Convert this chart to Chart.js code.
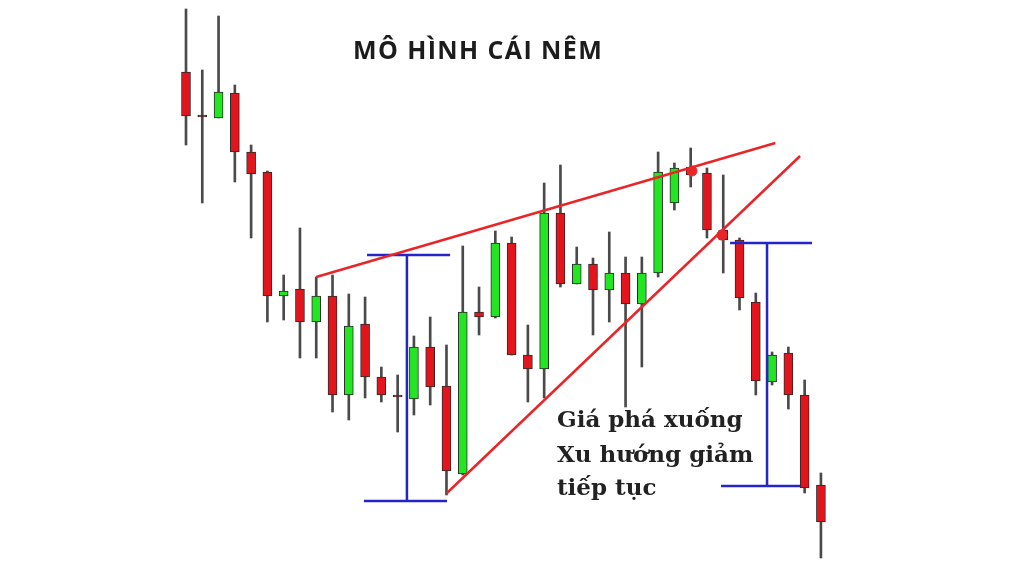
<!DOCTYPE html>
<html>
<head>
<meta charset="utf-8">
<script src="https://cdn.jsdelivr.net/npm/chart.js@4.4.0/dist/chart.umd.min.js"></script>
<style>
  html, body { margin: 0; padding: 0; background: #fff; }
  #wrap { width: 1024px; height: 576px; }
</style>
</head>
<body>
<div id="wrap"><canvas id="myChart"></canvas></div>
<script>
// du lieu nen (gia mo, cao, thap, dong) - 40 cay nen
var opens  = [504, 461, 458, 483, 424, 404, 280, 287, 254, 280, 181, 252, 199, 181, 177, 229, 190, 102, 264, 259,
              333, 221, 207, 363, 292, 312, 286, 303, 272, 303, 373, 409, 403, 346, 336, 274, 194, 223, 181, 91];
var highs  = [567, 506, 560, 491, 431, 405, 301, 348, 299, 301, 282, 279, 209, 201, 240, 259, 231, 330, 289, 345,
              339, 251, 393, 411, 329, 318, 344, 319, 319, 424, 413, 428, 408, 401, 338, 283, 224, 229, 196, 103];
var lows   = [431, 373, 458, 394, 338, 254, 256, 218, 218, 164, 156, 178, 174, 144, 161, 171, 81, 101, 241, 258,
              221, 174, 178, 289, 292, 241, 254, 169, 209, 299, 366, 389, 338, 303, 266, 181, 191, 167, 83, 18];
var closes = [460, 459, 484, 424, 402, 280, 285, 254, 280, 181, 250, 199, 181, 179, 229, 189, 105, 264, 259, 333,
              221, 207, 363, 292, 312, 286, 303, 272, 303, 404, 408, 401, 346, 336, 278, 195, 221, 181, 88, 54];

// duong xu huong cai nem (x = so thu tu cay nen)
var upperLine = [{x: 9.0, y: 299}, {x: 37.2, y: 433}];
var lowerLine = [{x: 17.03, y: 83}, {x: 38.72, y: 420}];
var breakDots = [{x: 32.08, y: 405}, {x: 33.92, y: 341}];

// khung do chieu cao
var leftTop    = [{x: 12.12, y: 321}, {x: 17.22, y: 321}];
var leftMid    = [{x: 14.57, y: 321}, {x: 14.57, y: 75}];
var leftBottom = [{x: 11.93, y: 75}, {x: 17.03, y: 75}];
var rightTop    = [{x: 34.42, y: 333}, {x: 39.45, y: 333}];
var rightMid    = [{x: 36.69, y: 333}, {x: 36.69, y: 90}];
var rightBottom = [{x: 33.86, y: 90}, {x: 38.72, y: 90}];

var titleText = 'MÔ HÌNH CÁI NÊM';
var noteLines = ['Giá phá xuống', 'Xu hướng giảm', 'tiếp tục'];

var RED = '#e3141c';
var GREEN = '#22e622';
var BLUE = '#2424c8';
var LINE_RED = '#e8262a';

var bodies = [], wicks = [], bodyColors = [];
for (var i = 0; i < opens.length; i++) {
    bodies.push({x: i + 1, y: [opens[i], closes[i]]});
    wicks.push({x: i + 1, y: [lows[i], highs[i]]});
    bodyColors.push(closes[i] > opens[i] ? GREEN : RED);
}

function seg(data, color) {
    return {
        type: 'line',
        data: data,
        borderColor: color,
        borderWidth: 2.5,
        pointRadius: 0,
        tension: 0,
        order: 0
    };
}

// ve chu tieu de va ghi chu
var textPlugin = {
    id: 'texts',
    afterDatasetsDraw: function(chart) {
        var ctx = chart.ctx;
        ctx.save();
        ctx.fillStyle = '#1c1c1c';
        ctx.font = 'bold 25px "Open Sans"';
        ctx.letterSpacing = '1.4px';
        ctx.textAlign = 'left';
        ctx.textBaseline = 'alphabetic';
        ctx.fillText(titleText, 353, 59);
        ctx.letterSpacing = '0px';
        ctx.font = 'bold 23px "DejaVu Serif"';
        ctx.fillStyle = '#222';
        var ys = [427, 462, 495];
        for (var k = 0; k < noteLines.length; k++) {
            ctx.fillText(noteLines[k], 557, ys[k]);
        }
        ctx.restore();
    }
};

var ctx = document.getElementById('myChart').getContext('2d');
window.myChart = new Chart(ctx, {
    type: 'bar',
    data: {
        datasets: [
            {
                data: wicks,
                backgroundColor: '#4a4a4a',
                barThickness: 2,
                grouped: false,
                order: 3
            },
            {
                data: bodies,
                backgroundColor: bodyColors,
                borderColor: '#2a2a2a',
                borderWidth: 1,
                borderSkipped: false,
                barThickness: 9,
                grouped: false,
                order: 2
            },
            seg(upperLine, LINE_RED),
            seg(lowerLine, LINE_RED),
            {
                type: 'line',
                data: breakDots,
                showLine: false,
                pointRadius: 5,
                pointBackgroundColor: LINE_RED,
                pointBorderColor: LINE_RED,
                order: 0
            },
            seg(leftTop, BLUE),
            seg(leftMid, BLUE),
            seg(leftBottom, BLUE),
            seg(rightTop, BLUE),
            seg(rightMid, BLUE),
            seg(rightBottom, BLUE)
        ]
    },
    options: {
        responsive: true,
        maintainAspectRatio: false,
        animation: false,
        layout: { padding: 0, autoPadding: false },
        plugins: {
            legend: { display: false },
            tooltip: { enabled: false },
            title: { display: false }
        },
        scales: {
            x: { type: 'linear', min: -10.425, max: 52.474, offset: false, display: false },
            y: { type: 'linear', min: 0, max: 576, display: false }
        }
    },
    plugins: [textPlugin]
});
</script>
</body>
</html>
